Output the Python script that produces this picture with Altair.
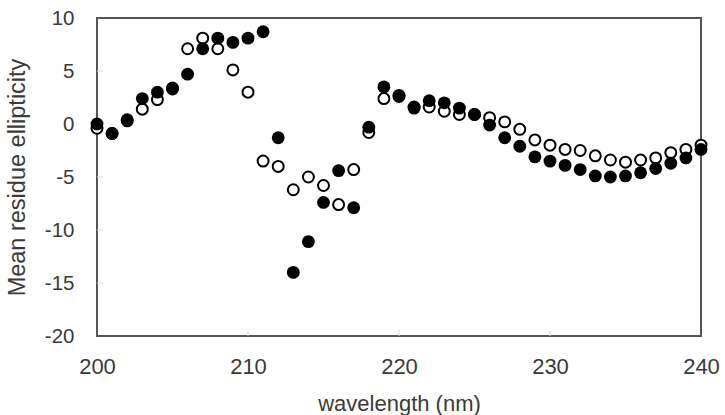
import altair as alt
import pandas as pd

wavelength = list(range(200, 241))
filled_vals = [0.0, -0.9, 0.4, 2.4, 3.0, 3.4, 4.7, 7.1, 8.1, 7.7,
               8.1, 8.7, -1.3, -14.0, -11.1, -7.4, -4.4, -7.9, -0.3, 3.5,
               2.7, 1.5, 2.2, 2.0, 1.5, 0.9, -0.1, -1.3, -2.1, -3.1,
               -3.5, -3.9, -4.3, -4.9, -5.0, -4.9, -4.6, -4.2, -3.7, -3.2,
               -2.4]
open_vals = [-0.4, -0.9, 0.3, 1.4, 2.3, 3.3, 7.1, 8.1, 7.1, 5.1,
             3.0, -3.5, -4.0, -6.2, -5.0, -5.8, -7.6, -4.3, -0.8, 2.4,
             2.6, 1.6, 1.6, 1.2, 0.9, 0.9, 0.6, 0.2, -0.5, -1.5,
             -2.0, -2.4, -2.5, -3.0, -3.4, -3.6, -3.4, -3.2, -2.7, -2.4,
             -2.0]
x_ticks = [200, 210, 220, 230, 240]
y_ticks = [-20, -15, -10, -5, 0, 5, 10]

df_f = pd.DataFrame({"wl": wavelength, "v": filled_vals})
df_o = pd.DataFrame({"wl": wavelength, "v": open_vals})

FONT = "Liberation Sans"
TXT = "#3a3a3a"
LBL = "datum.value < 0 ? '-' + toString(abs(datum.value)) : toString(datum.value)"

xs = alt.Scale(domain=[200, 240], nice=False, zero=False)
ys = alt.Scale(domain=[-20, 10], nice=False, zero=False)

xaxis = alt.Axis(values=x_ticks, title="wavelength (nm)", grid=False, domain=False,
                 ticks=False, labelPadding=20, labelFontSize=22, titleFontSize=22,
                 titlePadding=16, labelColor=TXT, titleColor=TXT, labelFont=FONT,
                 titleFont=FONT, titleFontWeight="normal", labelFlush=False,
                 labelExpr=LBL)
yaxis = alt.Axis(values=y_ticks, title="Mean residue ellipticity", grid=False, domain=False,
                 ticks=False, labelPadding=23, labelFontSize=20.5, titleFontSize=23.5,
                 titlePadding=15, labelColor=TXT, titleColor=TXT, labelFont=FONT,
                 titleFont=FONT, titleFontWeight="normal", labelFlush=False,
                 labelExpr=LBL)

open_pts = alt.Chart(df_o).mark_point(
    shape="circle", filled=True, fill="white", stroke="black", strokeWidth=2, size=120, opacity=1
).encode(x=alt.X("wl:Q", scale=xs, axis=xaxis), y=alt.Y("v:Q", scale=ys, axis=yaxis))

filled_pts = alt.Chart(df_f).mark_circle(color="black", size=165, opacity=1).encode(
    x=alt.X("wl:Q", scale=xs), y=alt.Y("v:Q", scale=ys))

inner_x = [210, 220, 230]
inner_y = [-15, -10, -5, 0, 5]
tx = alt.Chart(pd.DataFrame({"t": inner_x})).mark_rule(color="#dddddd", strokeWidth=1).encode(
    x=alt.X("t:Q", scale=xs), y=alt.value(318), y2=alt.value(312))
ty = alt.Chart(pd.DataFrame({"t": inner_y})).mark_rule(color="#dddddd", strokeWidth=1).encode(
    y=alt.Y("t:Q", scale=ys), x=alt.value(0), x2=alt.value(6))

chart = alt.layer(tx, ty, open_pts, filled_pts).properties(
    width=604, height=318,
    autosize=alt.AutoSizeParams(type="none"),
    padding={"left": 97, "top": 18, "right": 24, "bottom": 79},
    background="white",
).configure_view(stroke="#555555", strokeWidth=2)

chart.save("out.html", embed_options={"renderer": "svg", "actions": False})
